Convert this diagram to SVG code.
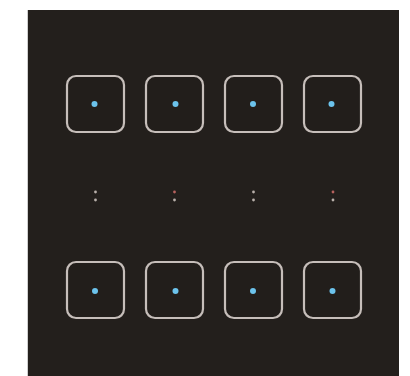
<svg xmlns="http://www.w3.org/2000/svg" width="410" height="376" viewBox="0 0 410 376">
<style>
.box{fill:#221e1b;stroke:#c6beba;stroke-width:2.2}
.led{fill:#6cc3ec}
.g{fill:#b9b0ab}
.r{fill:#b8625e}
</style>
<rect x="0" y="0" width="410" height="376" fill="#ffffff"/>
<rect x="27" y="10" width="372" height="366" fill="#231f1c"/>
<rect x="27" y="10" width="1" height="366" fill="#cfcfcf"/>
<g id="top1"><rect class="box" x="67" y="76" width="57" height="56" rx="9"/><circle class="led" cx="94.5" cy="104" r="3"/></g>
<g id="top2"><rect class="box" x="146" y="76" width="57" height="56" rx="9"/><circle class="led" cx="175.5" cy="104" r="3"/></g>
<g id="top3"><rect class="box" x="225" y="76" width="57" height="56" rx="9"/><circle class="led" cx="253" cy="104" r="3"/></g>
<g id="top4"><rect class="box" x="304" y="76" width="57" height="56" rx="9"/><circle class="led" cx="331.5" cy="104" r="3"/></g>
<g id="mid1"><circle class="g" cx="95.5" cy="192" r="1.4"/><circle class="g" cx="95.5" cy="200" r="1.4"/></g>
<g id="mid2"><circle class="r" cx="174.5" cy="192" r="1.4"/><circle class="g" cx="174.5" cy="200" r="1.4"/></g>
<g id="mid3"><circle class="g" cx="253.5" cy="192" r="1.4"/><circle class="g" cx="253.5" cy="200" r="1.4"/></g>
<g id="mid4"><circle class="r" cx="333" cy="192" r="1.4"/><circle class="g" cx="333" cy="200" r="1.4"/></g>
<g id="bot1"><rect class="box" x="67" y="262" width="57" height="56" rx="9"/><circle class="led" cx="95" cy="291" r="3"/></g>
<g id="bot2"><rect class="box" x="146" y="262" width="57" height="56" rx="9"/><circle class="led" cx="175.5" cy="291" r="3"/></g>
<g id="bot3"><rect class="box" x="225" y="262" width="57" height="56" rx="9"/><circle class="led" cx="253" cy="291" r="3"/></g>
<g id="bot4"><rect class="box" x="304" y="262" width="57" height="56" rx="9"/><circle class="led" cx="332.5" cy="291" r="3"/></g>
<g id="connectors"></g>
</svg>
